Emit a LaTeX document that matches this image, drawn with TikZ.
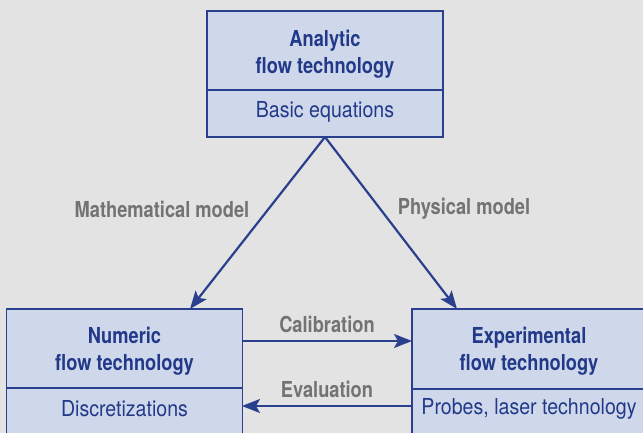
\documentclass[tikz,border=0pt]{standalone}
\usepackage{fontspec}
\setmainfont{TeX Gyre Heros}[FakeStretch=0.89, BoldFeatures={FakeStretch=0.83}]
\usetikzlibrary{arrows.meta}
\definecolor{bg}{HTML}{E3E3E3}
\definecolor{boxfill}{HTML}{CFD8EA}
\definecolor{boxline}{HTML}{2B3F8F}
\definecolor{navy}{HTML}{22398A}
\definecolor{lblgray}{HTML}{737373}
\tikzset{
  box/.style={draw=boxline, line width=1.3pt, fill=boxfill, rectangle, minimum width=236pt, inner sep=0pt},
  title/.style={text=navy, font=\fontsize{22}{27}\selectfont\bfseries, align=center, inner sep=0pt},
  sub/.style={text=navy, font=\fontsize{22}{27}\selectfont, align=center, inner sep=0pt},
  lbl/.style={text=lblgray, font=\fontsize{22}{27}\selectfont\bfseries, inner sep=0pt},
  conn/.style={draw=boxline, line width=2.2pt, -{Stealth[length=18pt,width=14pt,inset=4pt]}},
  divider/.style={draw=boxline, line width=1.2pt}
}
\begin{document}
\begin{tikzpicture}[x=1pt,y=-1pt]
\fill[bg] (0,0) rectangle (643,433);
\useasboundingbox (0,0) rectangle (643,433);
\clip (0,0) rectangle (643,433);
% boxes
\node[box, minimum height=126pt] (top) at (325,74) {};
\node[box, minimum height=135pt] (left) at (124.5,376.5) {};
\node[box, minimum height=135pt] (right) at (530,376.5) {};
% dividers
\coordinate (tdl) at (207,90); \coordinate (tdr) at (443,90);
\draw[divider] (tdl) -- (tdr);
\coordinate (ldl) at (7,388); \coordinate (ldr) at (242,388);
\draw[divider] (ldl) -- (ldr);
\coordinate (rdl) at (412,389); \coordinate (rdr) at (648,389);
\draw[divider] (rdl) -- (rdr);
% texts
\node[title] (toptitle) at (325,54) {Analytic\\flow technology};
\node[sub] (topsub) at (325,112) {Basic equations};
\node[title] (lefttitle) at (124.5,351) {Numeric\\flow technology};
\node[sub] (leftsub) at (124.5,409) {Discretizations};
\node[title] (righttitle) at (529,351) {Experimental\\flow technology};
\node[sub] (rightsub) at (529,409) {Probes, laser technology};
% connector endpoints
\coordinate (apex) at (325,137);
\coordinate (lt) at (190,309);
\coordinate (rt) at (457,309);
\coordinate (c1) at (242,341); \coordinate (c2) at (412,341);
\coordinate (e1) at (412,406); \coordinate (e2) at (242,406);
\draw[conn] (apex) -- (lt);
\draw[conn] (apex) -- (rt);
\draw[conn] (c1) -- (c2);
\draw[conn] (e1) -- (e2);
% labels
\node[lbl] (mm) at (162,209) {Mathematical model};
\node[lbl] (pm) at (464,209) {Physical model};
\node[lbl] (cal) at (327,324) {Calibration};
\node[lbl] (eval) at (327,389) {Evaluation};
\end{tikzpicture}
\end{document}
